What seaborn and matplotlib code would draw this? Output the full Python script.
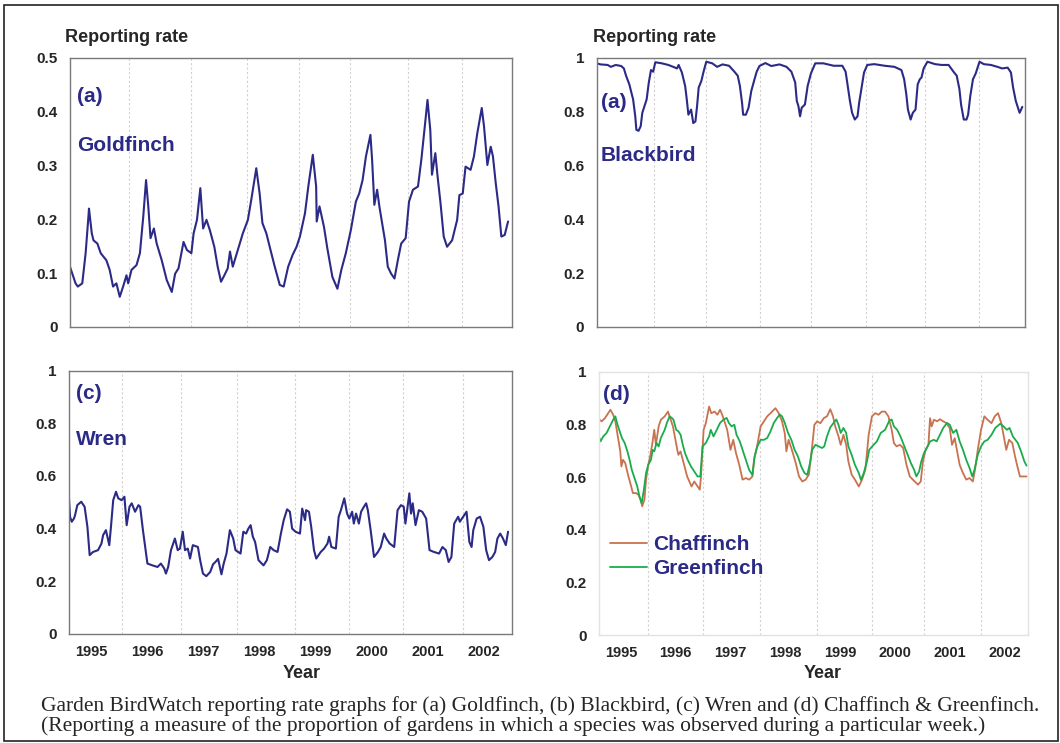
import matplotlib.pyplot as plt
import pandas as pd
import seaborn as sns
from matplotlib.patches import Rectangle

# weekly reporting rates (decimal year, rate)
GOLD_YEAR = [1995.10, 1995.20, 1995.24, 1995.32, 1995.38, 1995.43, 1995.44, 1995.49, 1995.52, 1995.59,
             1995.65, 1995.75, 1995.81, 1995.87, 1995.93, 1995.99, 1996.05, 1996.11, 1996.14, 1996.20,
             1996.29, 1996.35, 1996.41, 1996.46, 1996.50, 1996.54, 1996.60, 1996.65, 1996.74, 1996.83,
             1996.92, 1996.98, 1997.04, 1997.13, 1997.19, 1997.27, 1997.31, 1997.37, 1997.43, 1997.48,
             1997.54, 1997.60, 1997.68, 1997.74, 1997.80, 1997.86, 1997.92, 1997.96, 1998.01, 1998.10,
             1998.19, 1998.28, 1998.34, 1998.43, 1998.49, 1998.54, 1998.61, 1998.67, 1998.76, 1998.85,
             1998.92, 1999.00, 1999.08, 1999.15, 1999.21, 1999.30, 1999.36, 1999.44, 1999.50, 1999.51,
             1999.56, 1999.64, 1999.70, 1999.79, 1999.88, 1999.95, 2000.03, 2000.12, 2000.21, 2000.27,
             2000.33, 2000.39, 2000.47, 2000.50, 2000.54, 2000.59, 2000.63, 2000.69, 2000.73, 2000.78,
             2000.84, 2000.90, 2000.96, 2001.02, 2001.10, 2001.16, 2001.23, 2001.32, 2001.38, 2001.46,
             2001.49, 2001.54, 2001.57, 2001.63, 2001.67, 2001.72, 2001.78, 2001.84, 2001.93, 2002.02,
             2002.06, 2002.12, 2002.17, 2002.26, 2002.32, 2002.38, 2002.46, 2002.50, 2002.56, 2002.62,
             2002.66, 2002.71, 2002.76, 2002.81, 2002.87, 2002.93]
GOLD_RATE = [0.112, 0.081, 0.075, 0.081, 0.137, 0.205, 0.220, 0.174, 0.161, 0.155,
             0.137, 0.124, 0.106, 0.075, 0.081, 0.056, 0.075, 0.096, 0.081, 0.106,
             0.115, 0.137, 0.205, 0.273, 0.224, 0.165, 0.183, 0.155, 0.124, 0.087,
             0.065, 0.099, 0.109, 0.158, 0.143, 0.137, 0.174, 0.199, 0.258, 0.183,
             0.199, 0.180, 0.149, 0.112, 0.084, 0.096, 0.109, 0.140, 0.112, 0.143,
             0.174, 0.199, 0.236, 0.295, 0.248, 0.193, 0.174, 0.149, 0.112, 0.078,
             0.075, 0.112, 0.134, 0.149, 0.168, 0.211, 0.261, 0.320, 0.261, 0.196,
             0.224, 0.186, 0.146, 0.093, 0.071, 0.106, 0.137, 0.180, 0.233, 0.248,
             0.273, 0.317, 0.357, 0.311, 0.227, 0.255, 0.224, 0.186, 0.161, 0.112,
             0.099, 0.090, 0.124, 0.155, 0.165, 0.233, 0.255, 0.261, 0.311, 0.391,
             0.422, 0.366, 0.283, 0.323, 0.280, 0.233, 0.168, 0.149, 0.161, 0.199,
             0.245, 0.248, 0.298, 0.292, 0.317, 0.360, 0.407, 0.373, 0.301, 0.335,
             0.317, 0.267, 0.224, 0.168, 0.171, 0.196]

BLACK_YEAR = [1995.10, 1995.17, 1995.30, 1995.36, 1995.45, 1995.55, 1995.60, 1995.64, 1995.70, 1995.77,
              1995.81, 1995.83, 1995.87, 1995.91, 1995.94, 1995.98, 1996.02, 1996.06, 1996.10, 1996.14,
              1996.18, 1996.30, 1996.42, 1996.51, 1996.58, 1996.61, 1996.67, 1996.73, 1996.76, 1996.79,
              1996.84, 1996.88, 1996.92, 1996.95, 1996.98, 1997.03, 1997.07, 1997.12, 1997.23, 1997.32,
              1997.42, 1997.54, 1997.63, 1997.70, 1997.74, 1997.78, 1997.80, 1997.85, 1997.90, 1997.95,
              1998.01, 1998.05, 1998.10, 1998.21, 1998.32, 1998.47, 1998.60, 1998.69, 1998.76, 1998.79,
              1998.82, 1998.85, 1998.88, 1998.94, 1998.99, 1999.05, 1999.13, 1999.28, 1999.47, 1999.63,
              1999.69, 1999.72, 1999.77, 1999.81, 1999.86, 1999.91, 1999.94, 1999.99, 2000.03, 2000.09,
              2000.22, 2000.41, 2000.59, 2000.72, 2000.77, 2000.81, 2000.84, 2000.89, 2000.93, 2000.98,
              2001.02, 2001.06, 2001.09, 2001.13, 2001.20, 2001.34, 2001.46, 2001.59, 2001.68, 2001.74,
              2001.79, 2001.82, 2001.87, 2001.92, 2001.95, 2001.99, 2002.04, 2002.09, 2002.16, 2002.24,
              2002.37, 2002.49, 2002.58, 2002.68, 2002.74, 2002.78, 2002.83, 2002.90, 2002.95]
BLACK_RATE = [0.980, 0.976, 0.974, 0.967, 0.974, 0.970, 0.961, 0.934, 0.902, 0.846,
              0.783, 0.733, 0.729, 0.746, 0.796, 0.821, 0.846, 0.909, 0.955, 0.949,
              0.984, 0.980, 0.974, 0.967, 0.961, 0.974, 0.946, 0.896, 0.846, 0.789,
              0.808, 0.758, 0.764, 0.821, 0.890, 0.915, 0.949, 0.986, 0.980, 0.967,
              0.976, 0.971, 0.951, 0.934, 0.896, 0.833, 0.789, 0.789, 0.815, 0.877,
              0.921, 0.949, 0.970, 0.981, 0.970, 0.976, 0.967, 0.949, 0.909, 0.840,
              0.821, 0.783, 0.815, 0.827, 0.896, 0.942, 0.980, 0.980, 0.971, 0.971,
              0.949, 0.909, 0.840, 0.796, 0.771, 0.783, 0.833, 0.896, 0.946, 0.974,
              0.977, 0.971, 0.967, 0.955, 0.921, 0.865, 0.808, 0.771, 0.796, 0.808,
              0.902, 0.921, 0.927, 0.961, 0.986, 0.977, 0.974, 0.974, 0.949, 0.934,
              0.884, 0.827, 0.771, 0.771, 0.789, 0.858, 0.921, 0.942, 0.986, 0.977,
              0.974, 0.967, 0.961, 0.964, 0.946, 0.890, 0.840, 0.796, 0.818]

WREN_YEAR = [1995.10, 1995.12, 1995.15, 1995.19, 1995.21, 1995.25, 1995.32, 1995.38, 1995.43, 1995.47,
             1995.53, 1995.62, 1995.68, 1995.71, 1995.76, 1995.82, 1995.85, 1995.89, 1995.94, 1995.98,
             1996.04, 1996.09, 1996.13, 1996.18, 1996.22, 1996.28, 1996.34, 1996.37, 1996.42, 1996.50,
             1996.59, 1996.68, 1996.74, 1996.80, 1996.83, 1996.87, 1996.92, 1996.99, 1997.04, 1997.08,
             1997.13, 1997.17, 1997.22, 1997.26, 1997.31, 1997.40, 1997.44, 1997.49, 1997.55, 1997.62,
             1997.67, 1997.73, 1997.76, 1997.82, 1997.86, 1997.91, 1997.97, 1998.03, 1998.07, 1998.16,
             1998.21, 1998.26, 1998.30, 1998.34, 1998.38, 1998.42, 1998.48, 1998.57, 1998.63, 1998.69,
             1998.75, 1998.82, 1998.88, 1998.93, 1998.99, 1999.04, 1999.08, 1999.14, 1999.22, 1999.26,
             1999.31, 1999.33, 1999.38, 1999.42, 1999.47, 1999.51, 1999.59, 1999.65, 1999.71, 1999.74,
             1999.78, 1999.86, 1999.91, 1999.95, 2000.01, 2000.06, 2000.10, 2000.15, 2000.18, 2000.22,
             2000.27, 2000.31, 2000.36, 2000.40, 2000.43, 2000.48, 2000.54, 2000.61, 2000.66, 2000.72,
             2000.76, 2000.82, 2000.90, 2000.96, 2001.02, 2001.07, 2001.10, 2001.14, 2001.17, 2001.20,
             2001.23, 2001.28, 2001.34, 2001.40, 2001.47, 2001.53, 2001.61, 2001.70, 2001.76, 2001.82,
             2001.87, 2001.92, 2001.97, 2002.04, 2002.07, 2002.13, 2002.19, 2002.24, 2002.28, 2002.31,
             2002.37, 2002.43, 2002.49, 2002.54, 2002.59, 2002.65, 2002.70, 2002.74, 2002.79, 2002.84,
             2002.89, 2002.93]
WREN_RATE = [0.521, 0.445, 0.426, 0.438, 0.451, 0.489, 0.502, 0.483, 0.407, 0.299,
             0.311, 0.318, 0.343, 0.375, 0.394, 0.337, 0.407, 0.508, 0.540, 0.515,
             0.508, 0.521, 0.413, 0.483, 0.496, 0.464, 0.489, 0.483, 0.394, 0.267,
             0.260, 0.254, 0.267, 0.248, 0.229, 0.254, 0.318, 0.362, 0.318, 0.324,
             0.388, 0.318, 0.324, 0.286, 0.337, 0.330, 0.280, 0.229, 0.219, 0.235,
             0.264, 0.277, 0.285, 0.226, 0.267, 0.305, 0.394, 0.362, 0.318, 0.305,
             0.388, 0.381, 0.400, 0.413, 0.369, 0.349, 0.280, 0.260, 0.280, 0.330,
             0.318, 0.311, 0.381, 0.432, 0.473, 0.464, 0.400, 0.388, 0.381, 0.476,
             0.432, 0.470, 0.464, 0.407, 0.318, 0.286, 0.311, 0.324, 0.343, 0.369,
             0.330, 0.324, 0.445, 0.470, 0.515, 0.457, 0.438, 0.464, 0.419, 0.457,
             0.419, 0.464, 0.483, 0.496, 0.470, 0.394, 0.292, 0.311, 0.330, 0.381,
             0.362, 0.343, 0.330, 0.470, 0.489, 0.483, 0.419, 0.483, 0.534, 0.457,
             0.496, 0.413, 0.470, 0.464, 0.438, 0.318, 0.311, 0.305, 0.330, 0.318,
             0.273, 0.292, 0.419, 0.445, 0.426, 0.445, 0.464, 0.349, 0.330, 0.394,
             0.438, 0.445, 0.407, 0.318, 0.280, 0.292, 0.311, 0.362, 0.381, 0.362,
             0.337, 0.388]

CHAFF_YEAR = [1995.10, 1995.15, 1995.21, 1995.27, 1995.31, 1995.36, 1995.40, 1995.45, 1995.49, 1995.51,
              1995.54, 1995.58, 1995.63, 1995.68, 1995.72, 1995.78, 1995.82, 1995.86, 1995.89, 1995.93,
              1995.96, 1996.00, 1996.04, 1996.08, 1996.11, 1996.14, 1996.19, 1996.23, 1996.30, 1996.36,
              1996.40, 1996.45, 1996.49, 1996.53, 1996.55, 1996.59, 1996.63, 1996.67, 1996.71, 1996.75,
              1996.79, 1996.84, 1996.90, 1996.94, 1996.96, 1997.01, 1997.05, 1997.11, 1997.15, 1997.21,
              1997.26, 1997.31, 1997.35, 1997.40, 1997.44, 1997.50, 1997.55, 1997.60, 1997.66, 1997.72,
              1997.78, 1997.84, 1997.90, 1997.93, 1997.99, 1998.05, 1998.11, 1998.17, 1998.23, 1998.32,
              1998.38, 1998.44, 1998.49, 1998.52, 1998.56, 1998.62, 1998.69, 1998.75, 1998.81, 1998.87,
              1998.93, 1998.99, 1999.03, 1999.08, 1999.14, 1999.20, 1999.26, 1999.32, 1999.37, 1999.41,
              1999.47, 1999.51, 1999.56, 1999.61, 1999.65, 1999.71, 1999.77, 1999.84, 1999.90, 1999.96,
              2000.02, 2000.08, 2000.14, 2000.20, 2000.26, 2000.32, 2000.38, 2000.44, 2000.48, 2000.53,
              2000.59, 2000.65, 2000.71, 2000.77, 2000.86, 2000.92, 2000.97, 2001.01, 2001.06, 2001.11,
              2001.14, 2001.17, 2001.21, 2001.27, 2001.32, 2001.38, 2001.44, 2001.50, 2001.54, 2001.59,
              2001.63, 2001.68, 2001.74, 2001.80, 2001.86, 2001.92, 2001.96, 2002.01, 2002.07, 2002.13,
              2002.19, 2002.26, 2002.32, 2002.38, 2002.44, 2002.48, 2002.53, 2002.58, 2002.64, 2002.69,
              2002.74, 2002.78, 2002.83, 2002.90]
CHAFF_RATE = [0.819, 0.811, 0.823, 0.842, 0.855, 0.836, 0.811, 0.747, 0.697, 0.640,
              0.665, 0.653, 0.609, 0.571, 0.539, 0.539, 0.533, 0.514, 0.489, 0.514,
              0.590, 0.646, 0.684, 0.735, 0.779, 0.722, 0.792, 0.817, 0.830, 0.848,
              0.823, 0.792, 0.747, 0.703, 0.684, 0.697, 0.665, 0.634, 0.602, 0.583,
              0.564, 0.583, 0.564, 0.552, 0.596, 0.779, 0.804, 0.867, 0.842, 0.848,
              0.836, 0.855, 0.836, 0.804, 0.779, 0.703, 0.741, 0.691, 0.646, 0.590,
              0.596, 0.590, 0.602, 0.665, 0.722, 0.792, 0.811, 0.830, 0.842, 0.861,
              0.842, 0.811, 0.766, 0.697, 0.741, 0.703, 0.653, 0.602, 0.583, 0.590,
              0.609, 0.716, 0.798, 0.811, 0.804, 0.823, 0.830, 0.857, 0.830, 0.792,
              0.754, 0.722, 0.760, 0.722, 0.659, 0.609, 0.590, 0.564, 0.590, 0.628,
              0.760, 0.830, 0.842, 0.836, 0.848, 0.848, 0.830, 0.779, 0.729, 0.716,
              0.722, 0.710, 0.646, 0.602, 0.583, 0.571, 0.583, 0.659, 0.703, 0.722,
              0.823, 0.792, 0.817, 0.811, 0.819, 0.811, 0.804, 0.785, 0.722, 0.747,
              0.703, 0.646, 0.615, 0.590, 0.596, 0.583, 0.628, 0.703, 0.779, 0.830,
              0.817, 0.804, 0.830, 0.842, 0.804, 0.760, 0.703, 0.741, 0.729, 0.678,
              0.634, 0.602, 0.602, 0.602]

GREEN_YEAR = [1995.10, 1995.13, 1995.18, 1995.24, 1995.30, 1995.36, 1995.40, 1995.44, 1995.48, 1995.52,
              1995.57, 1995.62, 1995.66, 1995.70, 1995.75, 1995.80, 1995.84, 1995.88, 1995.92, 1995.96,
              1996.00, 1996.05, 1996.08, 1996.11, 1996.15, 1996.19, 1996.23, 1996.30, 1996.34, 1996.39,
              1996.43, 1996.46, 1996.51, 1996.55, 1996.59, 1996.63, 1996.67, 1996.72, 1996.78, 1996.84,
              1996.90, 1996.95, 1996.99, 1997.05, 1997.11, 1997.14, 1997.19, 1997.25, 1997.31, 1997.37,
              1997.43, 1997.47, 1997.52, 1997.57, 1997.61, 1997.67, 1997.72, 1997.78, 1997.84, 1997.90,
              1997.94, 1997.99, 1998.05, 1998.11, 1998.17, 1998.23, 1998.29, 1998.35, 1998.40, 1998.44,
              1998.49, 1998.55, 1998.61, 1998.67, 1998.73, 1998.79, 1998.85, 1998.90,
              1998.95, 1998.99, 1999.05, 1999.11, 1999.17, 1999.21, 1999.26, 1999.32, 1999.38, 1999.43,
              1999.47, 1999.51, 1999.56, 1999.61, 1999.65, 1999.71, 1999.77, 1999.84, 1999.88, 1999.93,
              1999.99, 2000.03, 2000.11, 2000.17, 2000.24, 2000.32, 2000.40, 2000.44, 2000.48, 2000.54,
              2000.60, 2000.66, 2000.72, 2000.79, 2000.85, 2000.89, 2000.94, 2000.98, 2001.03, 2001.08,
              2001.14, 2001.21, 2001.26, 2001.32, 2001.38, 2001.45, 2001.50, 2001.56, 2001.62, 2001.68,
              2001.74, 2001.80, 2001.86, 2001.91, 2001.95, 2002.01, 2002.07, 2002.13, 2002.19, 2002.26,
              2002.33, 2002.42, 2002.48, 2002.54, 2002.59, 2002.65, 2002.74, 2002.80, 2002.86, 2002.90]
GREEN_RATE = [0.754, 0.735, 0.754, 0.767, 0.792, 0.817, 0.830, 0.798, 0.773, 0.748,
              0.729, 0.697, 0.665, 0.627, 0.596, 0.564, 0.526, 0.501, 0.551, 0.615,
              0.646, 0.665, 0.703, 0.697, 0.729, 0.716, 0.748, 0.779, 0.805, 0.830,
              0.824, 0.817, 0.779, 0.773, 0.760, 0.722, 0.691, 0.665, 0.640, 0.621,
              0.602, 0.602, 0.716, 0.729, 0.754, 0.779, 0.754, 0.779, 0.805, 0.817,
              0.824, 0.805, 0.792, 0.798, 0.760, 0.735, 0.703, 0.665, 0.627, 0.608,
              0.678, 0.716, 0.741, 0.741, 0.748, 0.773, 0.805, 0.824, 0.837, 0.830,
              0.805, 0.767, 0.741, 0.703, 0.678, 0.640, 0.615, 0.608,
              0.653, 0.703, 0.722, 0.716, 0.710, 0.716, 0.754, 0.788, 0.805, 0.818,
              0.798, 0.767, 0.786, 0.767, 0.716, 0.684, 0.646, 0.615, 0.589, 0.615,
              0.659, 0.703, 0.722, 0.735, 0.767, 0.779, 0.815, 0.818, 0.792, 0.779,
              0.754, 0.722, 0.691, 0.653, 0.627, 0.602, 0.621, 0.659, 0.691, 0.710,
              0.735, 0.741, 0.735, 0.760, 0.786, 0.805, 0.798, 0.767, 0.779, 0.735,
              0.703, 0.665, 0.634, 0.602, 0.627, 0.684, 0.716, 0.735, 0.741, 0.760,
              0.786, 0.802, 0.792, 0.779, 0.786, 0.754, 0.729, 0.697, 0.659, 0.643]

YEAR_LABELS = ["1995", "1996", "1997", "1998", "1999", "2000", "2001", "2002"]
YEAR_MIDS = [1995.5, 1996.5, 1997.5, 1998.5, 1999.5, 2000.5, 2001.5, 2002.5]

NAVY = "#2b2a86"
CHAFF_COLOR = "#c9724f"
GREEN_COLOR = "#1aac4c"

sns.set_style("white")
plt.rcParams['font.family'] = ['Liberation Sans', 'DejaVu Sans']

fig = plt.figure(figsize=(10.6, 7.43), dpi=100)


def style_panel(ax, top, step, grid_years, x_end, show_years, frame="#7a7a7a"):
    ax.set_xlim(1995.1, x_end)
    ax.set_ylim(0, top)
    ticks = [round(i * step, 1) for i in range(int(round(top / step)) + 1)]
    ax.set_yticks(ticks)
    ax.set_yticklabels(["1" if t == 1 else ("0" if t == 0 else f"{t:g}") for t in ticks],
                       fontweight="bold", fontsize=11)
    ax.tick_params(axis="y", length=0, pad=9)
    ax.set_xticks(grid_years, minor=True)
    ax.grid(which="minor", axis="x", color="#d4d0d0", linestyle=(0, (2, 2)), linewidth=0.8)
    ax.tick_params(which="minor", length=0)
    if show_years:
        ax.set_xticks(YEAR_MIDS)
        ax.set_xticklabels(YEAR_LABELS, fontweight="bold", fontsize=10.5)
        ax.tick_params(axis="x", which="major", length=0, pad=8)
    else:
        ax.set_xticks([])
    ax.set_xlabel("")
    ax.set_ylabel("")
    for sp in ax.spines.values():
        sp.set_color(frame)
        sp.set_linewidth(1.0)


def tag(ax, letter, name, y1, y2, x=0.016):
    ax.text(x, y1, letter, transform=ax.transAxes, color=NAVY, fontsize=15,
            fontweight="bold", va="center", ha="left")
    if name:
        ax.text(x, y2, name, transform=ax.transAxes, color=NAVY, fontsize=15,
                fontweight="bold", va="center", ha="left")


# (a) Goldfinch
ax_a = fig.add_axes([0.066, 0.560, 0.417, 0.362])
gold = pd.DataFrame({"year": GOLD_YEAR, "rate": GOLD_RATE})
sns.lineplot(data=gold, x="year", y="rate", ax=ax_a, color=NAVY, linewidth=1.5,
             estimator=None, sort=False)
style_panel(ax_a, 0.5, 0.1, [1996.16, 1997.27, 1998.27, 1999.2, 2000.1, 2001.15, 2002.11],
            2003.0, False)
tag(ax_a, "(a)", "Goldfinch", 0.855, 0.673)

# (b) Blackbird
ax_b = fig.add_axes([0.563, 0.560, 0.404, 0.362])
black = pd.DataFrame({"year": BLACK_YEAR, "rate": BLACK_RATE})
sns.lineplot(data=black, x="year", y="rate", ax=ax_b, color=NAVY, linewidth=1.5,
             estimator=None, sort=False)
style_panel(ax_b, 1.0, 0.2, [1996.15, 1997.12, 1998.11, 1999.05, 2000.06, 2001.15, 2002.16],
            2003.0, False)
tag(ax_b, "(a)", "Blackbird", 0.836, 0.638, x=0.01)

# (c) Wren
ax_c = fig.add_axes([0.065, 0.147, 0.418, 0.354])
wren = pd.DataFrame({"year": WREN_YEAR, "rate": WREN_RATE})
sns.lineplot(data=wren, x="year", y="rate", ax=ax_c, color=NAVY, linewidth=1.5,
             estimator=None, sort=False)
style_panel(ax_c, 1.0, 0.2, [1996.04, 1997.1, 1998.09, 1999.13, 2000.1, 2001.05, 2002.13],
            2003.0, True)
tag(ax_c, "(c)", "Wren", 0.913, 0.738)

# (d) Chaffinch & Greenfinch
ax_d = fig.add_axes([0.565, 0.145, 0.405, 0.355])
finches = pd.concat([
    pd.DataFrame({"year": CHAFF_YEAR, "rate": CHAFF_RATE, "species": "Chaffinch"}),
    pd.DataFrame({"year": GREEN_YEAR, "rate": GREEN_RATE, "species": "Greenfinch"}),
])
sns.lineplot(data=finches, x="year", y="rate", hue="species", ax=ax_d,
             palette={"Chaffinch": CHAFF_COLOR, "Greenfinch": GREEN_COLOR},
             linewidth=1.3, estimator=None, sort=False, legend=False)
style_panel(ax_d, 1.0, 0.2, [1995.99, 1996.99, 1998.03, 1999.07, 2000.08, 2001.03, 2002.07],
            2002.93, True, frame="#e2e2e2")
tag(ax_d, "(d)", None, 0.914, 0, x=0.01)
leg = ax_d.legend(ax_d.get_lines()[:2], ["Chaffinch", "Greenfinch"], loc="upper left",
                  bbox_to_anchor=(0.025, 0.38), frameon=False, handlelength=1.8,
                  handletextpad=0.3, labelspacing=0.25, borderpad=0, borderaxespad=0,
                  prop={"weight": "bold", "size": 15})
for t in leg.get_texts():
    t.set_color(NAVY)

# shared texts
fig.text(0.061, 0.949, "Reporting rate", fontsize=13, fontweight="bold", va="center")
fig.text(0.559, 0.949, "Reporting rate", fontsize=13, fontweight="bold", va="center")
fig.text(0.285, 0.093, "Year", fontsize=13, fontweight="bold", va="center", ha="center")
fig.text(0.776, 0.093, "Year", fontsize=13, fontweight="bold", va="center", ha="center")

fig.text(0.039, 0.050, "Garden BirdWatch reporting rate graphs for (a) Goldfinch, (b) Blackbird, "
         "(c) Wren and (d) Chaffinch & Greenfinch.", family="Liberation Serif", fontsize=15.5,
         va="center")
fig.text(0.039, 0.023, "(Reporting a measure of the proportion of gardens in which a species was "
         "observed during a particular week.)", family="Liberation Serif", fontsize=15.5,
         va="center")

fig.patches.append(Rectangle((0.004, 0.003), 0.994, 0.990, transform=fig.transFigure,
                             fill=False, edgecolor="#222222", linewidth=1.2))

fig.savefig("out.png", dpi=100)
